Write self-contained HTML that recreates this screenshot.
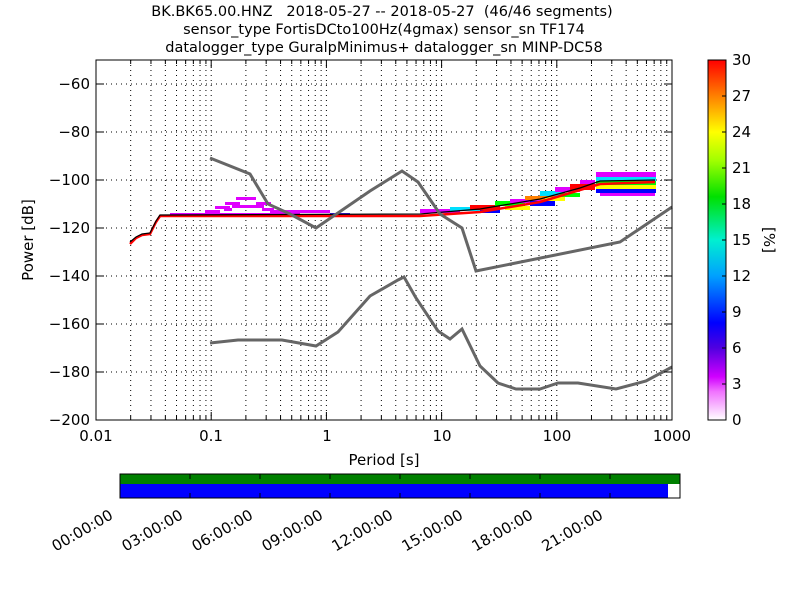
<!DOCTYPE html>
<html><head><style>body{margin:0;background:#fff}svg{display:block;font-family:"DejaVu Sans","Liberation Sans",sans-serif}</style></head><body>
<svg width="800" height="600" viewBox="0 0 800 600" xmlns="http://www.w3.org/2000/svg">
<defs>
<linearGradient id="cb" x1="0" y1="1" x2="0" y2="0">
<stop offset="0" stop-color="#ffffff"/>
<stop offset="0.08" stop-color="#f070ff"/>
<stop offset="0.12" stop-color="#d000ff"/>
<stop offset="0.2" stop-color="#5000e0"/>
<stop offset="0.27" stop-color="#0000ff"/>
<stop offset="0.4" stop-color="#00a0ff"/>
<stop offset="0.5" stop-color="#00f0d0"/>
<stop offset="0.62" stop-color="#00e000"/>
<stop offset="0.72" stop-color="#a0ff00"/>
<stop offset="0.8" stop-color="#ffff00"/>
<stop offset="0.9" stop-color="#ff8000"/>
<stop offset="1" stop-color="#ff0000"/>
</linearGradient>
</defs>
<g font-size="14.5" text-anchor="middle" fill="#000">
<text x="382" y="16" xml:space="preserve">BK.BK65.00.HNZ   2018-05-27 -- 2018-05-27  (46/46 segments)</text>
<text x="384" y="34">sensor_type FortisDCto100Hz(4gmax) sensor_sn TF174</text>
<text x="384" y="52">datalogger_type GuralpMinimus+ datalogger_sn MINP-DC58</text>
</g>
<g stroke="#000" stroke-width="1" stroke-dasharray="1,4" id="grid">
<line x1="96" x2="672" y1="84" y2="84"/><line x1="96" x2="672" y1="132" y2="132"/><line x1="96" x2="672" y1="180" y2="180"/><line x1="96" x2="672" y1="228" y2="228"/><line x1="96" x2="672" y1="276" y2="276"/><line x1="96" x2="672" y1="324" y2="324"/><line x1="96" x2="672" y1="372" y2="372"/>
</g>
<g stroke="#000" stroke-width="1" stroke-dasharray="1,4" id="xg"></g>
<g id="data" shape-rendering="crispEdges">
<rect x="170" y="213" width="130" height="3" fill="#e000ff"/>
<rect x="205" y="210" width="15" height="3" fill="#e000ff"/>
<rect x="215" y="206" width="15" height="3" fill="#e000ff"/>
<rect x="225" y="202" width="15" height="3" fill="#e000ff"/>
<rect x="236" y="197" width="20" height="3" fill="#e000ff"/>
<rect x="256" y="202" width="15" height="3" fill="#e000ff"/>
<rect x="224" y="208" width="8" height="3" fill="#e000ff"/>
<rect x="232" y="205" width="32" height="3" fill="#e000ff"/>
<rect x="262" y="208" width="12" height="3" fill="#e000ff"/>
<rect x="270" y="210" width="60" height="3" fill="#e000ff"/>
<rect x="330" y="213" width="20" height="3" fill="#4020ff"/>
<rect x="420" y="209" width="40" height="4" fill="#e000ff"/>
<rect x="450" y="207" width="30" height="4" fill="#00e0ff"/>
<rect x="470" y="205" width="30" height="5" fill="#ff0000"/>
<rect x="480" y="210" width="20" height="3" fill="#0000ff"/>
<rect x="495" y="201" width="30" height="5" fill="#00ff00"/>
<rect x="505" y="206" width="25" height="4" fill="#ffff00"/>
<rect x="510" y="199" width="35" height="4" fill="#e000ff"/>
<rect x="525" y="196" width="30" height="4" fill="#ff8000"/>
<rect x="530" y="201" width="25" height="5" fill="#0000ff"/>
<rect x="540" y="191" width="25" height="5" fill="#00e0ff"/>
<rect x="545" y="197" width="20" height="4" fill="#ffff00"/>
<rect x="555" y="187" width="25" height="5" fill="#e000ff"/>
<rect x="560" y="193" width="20" height="4" fill="#00ff00"/>
<rect x="570" y="184" width="25" height="6" fill="#ff0000"/>
<rect x="580" y="180" width="15" height="4" fill="#e000ff"/>
<rect x="596" y="172" width="60" height="5" fill="#e000ff"/>
<rect x="596" y="177" width="60" height="4" fill="#00e0ff"/>
<rect x="596" y="181" width="60" height="4" fill="#00ff00"/>
<rect x="596" y="185" width="60" height="4" fill="#ffff00"/>
<rect x="596" y="189" width="60" height="4" fill="#0000ff"/>
<rect x="600" y="193" width="55" height="3" fill="#e000ff"/>
</g>
<polyline fill="none" stroke="#ff0000" stroke-width="2.5" points="130,244 136,238 142,235 150,234 156,222 160,216 420,216 480,212 540,202 580,190 600,184 655,182"/>
<polyline fill="none" stroke="#000" stroke-width="1.2" points="130,242 136,237 142,234 150,233 156,221 160,215 420,214 480,209 540,199 580,188 600,181 655,180"/>
<polyline fill="none" stroke="#666" stroke-width="3" points="210,158 250,174 268,204 290,214 316,228 370,191 402,171 418,182 440,214 462,228 476,271 620,242 672,207"/>
<polyline fill="none" stroke="#666" stroke-width="3" points="210,343 238,340 282,340 316,346 338,332 370,296 398,280 404,277 416,298 438,331 450,339 462,329 480,366 498,383 516,389 540,389 558,383 578,383 616,389 646,381 672,367"/>
<rect x="96" y="60" width="576" height="360" fill="none" stroke="#000" stroke-width="1"/>
<g id="ticks" stroke="#000"></g>
<g font-size="15" text-anchor="end">
<text x="90" y="89">−60</text><text x="90" y="137">−80</text><text x="90" y="185">−100</text><text x="90" y="233">−120</text><text x="90" y="281">−140</text><text x="90" y="329">−160</text><text x="90" y="377">−180</text><text x="90" y="425">−200</text>
</g>
<g font-size="15" text-anchor="middle">
<text x="96" y="441">0.01</text><text x="211" y="441">0.1</text><text x="327" y="441">1</text><text x="442" y="441">10</text><text x="557" y="441">100</text><text x="672" y="441">1000</text>
<text x="384" y="465">Period [s]</text>
</g>
<text font-size="15" text-anchor="middle" transform="translate(33,240) rotate(-90)">Power [dB]</text>
<rect x="708" y="60" width="18" height="360" fill="url(#cb)" stroke="#000"/>
<g font-size="15">
<text x="732" y="425">0</text><text x="732" y="389">3</text><text x="732" y="353">6</text><text x="732" y="317">9</text><text x="732" y="281">12</text><text x="732" y="245">15</text><text x="732" y="209">18</text><text x="732" y="173">21</text><text x="732" y="137">24</text><text x="732" y="101">27</text><text x="732" y="65">30</text>
</g>
<g stroke="#000"><line x1="722" x2="726" y1="384" y2="384"/><line x1="722" x2="726" y1="348" y2="348"/><line x1="722" x2="726" y1="312" y2="312"/><line x1="722" x2="726" y1="276" y2="276"/><line x1="722" x2="726" y1="240" y2="240"/><line x1="722" x2="726" y1="204" y2="204"/><line x1="722" x2="726" y1="168" y2="168"/><line x1="722" x2="726" y1="132" y2="132"/><line x1="722" x2="726" y1="96" y2="96"/></g>
<text font-size="15" text-anchor="middle" transform="translate(764,240) rotate(90)">[%]</text>
<rect x="120" y="474" width="560" height="10" fill="#008000"/>
<rect x="120" y="484" width="548" height="14" fill="#0000ff"/>
<rect x="120" y="474" width="560" height="24" fill="none" stroke="#000"/>
<g stroke="#000" id="tt"></g>
<g font-size="15" text-anchor="end" id="tl"></g>
<script>
var ns="http://www.w3.org/2000/svg";
function L(g,a){var e=document.createElementNS(ns,"line");for(var k in a)e.setAttribute(k,a[k]);g.appendChild(e);}
var xg=document.getElementById("xg"),tk=document.getElementById("ticks");
for(var d=-2;d<3;d++)for(var m=1;m<10;m++){var x=96+115.2*(d+2+Math.log10(m));if(x<=96.5||x>671.5)continue;L(xg,{x1:x,x2:x,y1:60,y2:420});
var len=m==1?8:4;L(tk,{x1:x,x2:x,y1:420,y2:420-len});L(tk,{x1:x,x2:x,y1:60,y2:60+len});}
for(var y=84;y<420;y+=48){L(tk,{x1:96,x2:104,y1:y,y2:y});L(tk,{x1:664,x2:672,y1:y,y2:y});}
var tt=document.getElementById("tt"),tl=document.getElementById("tl");
for(var i=0;i<8;i++){var x=120+70*i;if(i>0){L(tt,{x1:x,x2:x,y1:474,y2:479});L(tt,{x1:x,x2:x,y1:493,y2:498});}
var t=document.createElementNS(ns,"text");t.setAttribute("transform","translate("+(x-6)+",518) rotate(-30)");t.textContent=(i*3<10?"0":"")+(i*3)+":00:00";tl.appendChild(t);}
</script>
</svg>
</body></html>
